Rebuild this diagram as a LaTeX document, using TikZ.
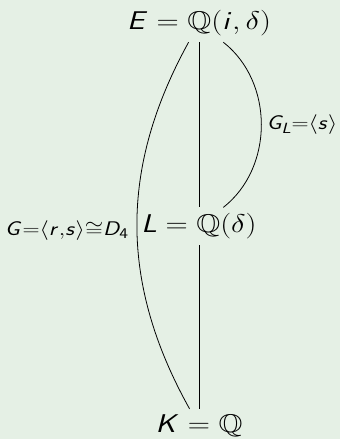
\RequirePackage{fix-cm}
\documentclass[tikz,border=0pt]{standalone}
\usepackage{amssymb}
\usetikzlibrary{positioning}
\definecolor{bgcol}{RGB}{229,240,229}
% sans letters and digits for the field names
\DeclareSymbolFont{sfletters}{OT1}{cmss}{m}{sl}
\DeclareSymbolFont{sfdigits}{OT1}{cmss}{m}{n}
\DeclareMathSymbol{E}{\mathalpha}{sfletters}{`E}
\DeclareMathSymbol{L}{\mathalpha}{sfletters}{`L}
\DeclareMathSymbol{K}{\mathalpha}{sfletters}{`K}
\DeclareMathSymbol{G}{\mathalpha}{sfletters}{`G}
\DeclareMathSymbol{D}{\mathalpha}{sfletters}{`D}
\DeclareMathSymbol{i}{\mathalpha}{sfletters}{`i}
\DeclareMathSymbol{r}{\mathalpha}{sfletters}{`r}
\DeclareMathSymbol{s}{\mathalpha}{sfletters}{`s}
\DeclareMathSymbol{4}{\mathalpha}{sfdigits}{`4}
\DeclareMathSizes{26}{26}{20}{15}
\newcommand{\stretched}[1]{\scalebox{1.2}[1]{#1}}

\begin{document}
\begin{tikzpicture}[x=1bp,y=-1bp,
  field/.style={font=\fontsize{26}{31}\selectfont,inner sep=6bp,anchor=base},
  lab/.style={font=\fontsize{26}{31}\selectfont,inner sep=3bp},
  ln/.style={line width=0.8bp}]
\fill[bgcol] (0,0) rectangle (343,443);

\node[field] (E) at (201,30) {\stretched{$E=\mathbb{Q}(i,\delta)$}};
\node[field] (L) at (201,235) {\stretched{$L=\mathbb{Q}(\delta)$}};
\node[field] (K) at (201,437) {\stretched{$K=\mathbb{Q}$}};

\draw[ln] (E) -- (L) -- (K);
\draw[ln] (E) to[bend left=52] node[lab,right,xshift=2bp]{\stretched{$\scriptstyle G_L=\langle s\rangle$}} (L);
\draw[ln] (E) to[bend right=29] node[lab,left,xshift=-5bp,yshift=-5bp]{\stretched{$\scriptstyle G=\langle r,s\rangle\cong D_4$}} (K);
\end{tikzpicture}
\end{document}
